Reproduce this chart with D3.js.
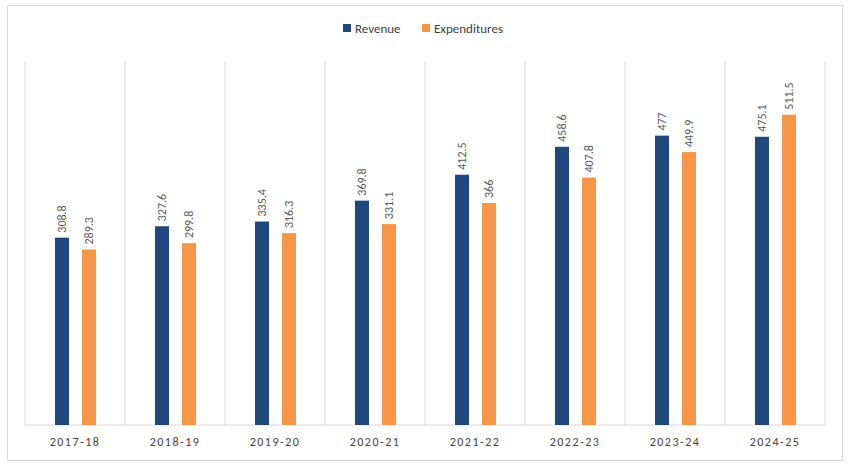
<!DOCTYPE html>
<html><head><meta charset="utf-8">
<script src="https://cdn.jsdelivr.net/npm/d3@7"></script>
<style>body{margin:0;background:#fff}text{font-family:Calibri,Carlito,"Liberation Sans",Arial,sans-serif}</style>
</head><body>
<svg id="c" width="849" height="469"></svg>
<script>
const categories = ["2017-18","2018-19","2019-20","2020-21","2021-22","2022-23","2023-24","2024-25"];
const seriesNames = ["Revenue","Expenditures"];
const revenue = [308.8,327.6,335.4,369.8,412.5,458.6,477,475.1];
const expenditures = [289.3,299.8,316.3,331.1,366,407.8,449.9,511.5];
const colors = ["#1f497d","#f79646"];

const svg = d3.select("#c");
svg.append("rect").attr("x",7.5).attr("y",5.5).attr("width",835).attr("height",455)
  .attr("fill","#fff").attr("stroke","#d9d9d9");
const L=25,R=825,T=61,B=425;
const x = d3.scaleBand().domain(categories).range([L,R]);
const x1 = d3.scaleBand().domain(seriesNames).range([30,71]).paddingInner(0.4815);
const y = d3.scaleLinear().domain([0,600]).range([B,T]);

// vertical category separators
const g = svg.append("g");
g.selectAll("line.sep").data(d3.range(categories.length+1)).join("line")
  .attr("x1",i=>L+i*x.step()).attr("x2",i=>L+i*x.step()).attr("y1",T).attr("y2",B)
  .attr("stroke","#d9d9d9").attr("stroke-width",1);
g.append("line").attr("x1",L).attr("x2",R).attr("y1",B).attr("y2",B).attr("stroke","#d9d9d9");

const data = [revenue, expenditures];
data.forEach((vals,si)=>{
  const s = seriesNames[si];
  svg.append("g").selectAll("rect").data(vals).join("rect")
    .attr("x",(d,i)=>x(categories[i])+x1(s)).attr("width",x1.bandwidth())
    .attr("y",d=>y(d)).attr("height",d=>B-y(d)).attr("fill",colors[si]);
  svg.append("g").selectAll("text").data(vals).join("text")
    .attr("transform",(d,i)=>`translate(${x(categories[i])+x1(s)+x1.bandwidth()/2+4},${y(d)-5}) rotate(-90)`)
    .attr("font-size",12).attr("fill","#595959").text(d=>d);
});

svg.append("g").selectAll("text").data(categories).join("text")
  .attr("x",d=>x(d)+x.bandwidth()/2).attr("y",446).attr("text-anchor","middle")
  .attr("font-size",12).attr("letter-spacing","1.5px").attr("fill","#404040").text(d=>d);

// legend
const lg = svg.append("g");
const lx=[343,422];
seriesNames.forEach((s,i)=>{
  lg.append("rect").attr("x",lx[i]).attr("y",24).attr("width",8).attr("height",8).attr("fill",colors[i]);
  lg.append("text").attr("x",lx[i]+12).attr("y",32.5).attr("font-size",13).attr("fill","#404040").text(s);
});
</script>
</body></html>
